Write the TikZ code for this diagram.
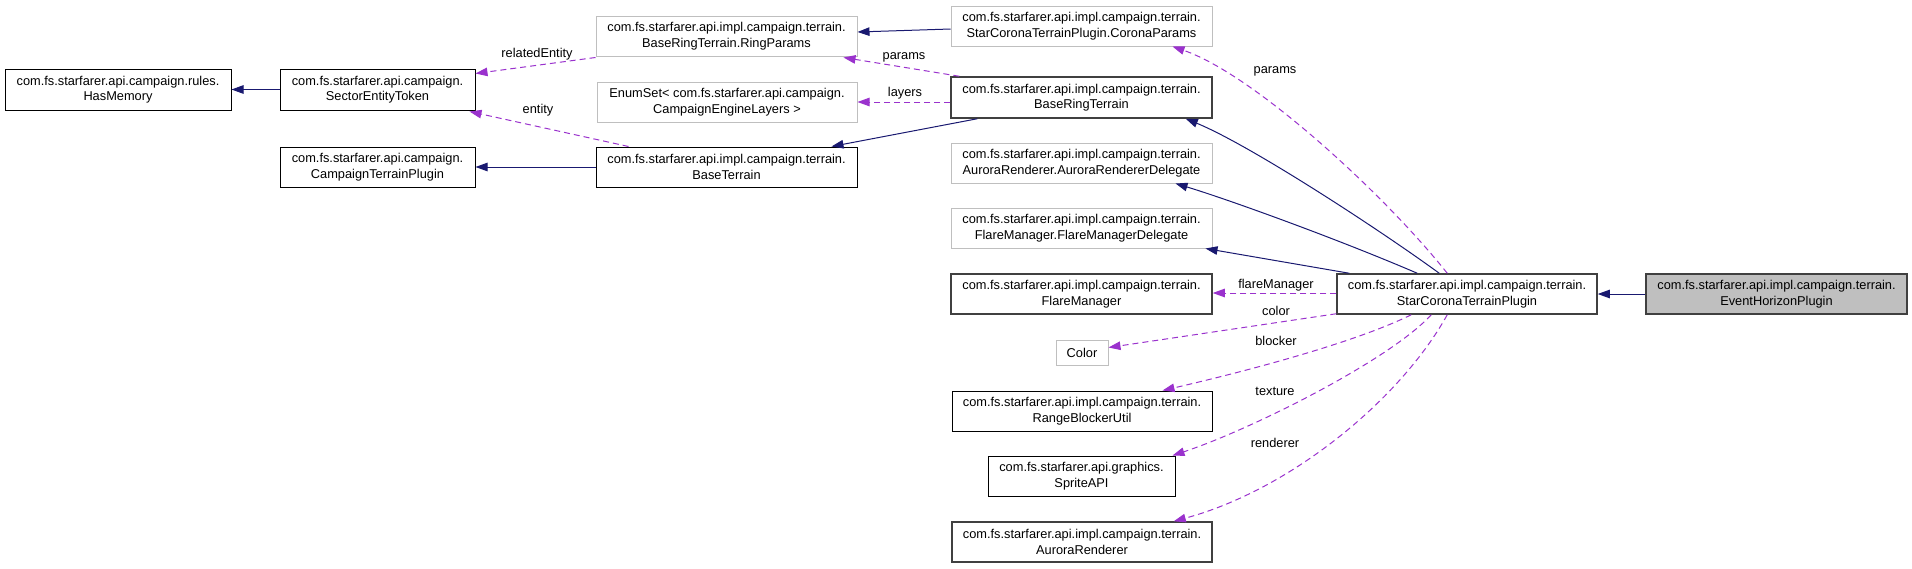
\documentclass[tikz,border=0pt]{standalone}
\usepackage{fontspec}
\setmainfont{Liberation Sans}
\usetikzlibrary{arrows.meta,calc}
\definecolor{navyedge}{HTML}{191970}
\definecolor{orchid}{HTML}{9A32CD}
\definecolor{lightborder}{HTML}{BFBFBF}
\definecolor{darkborder}{HTML}{404040}
\definecolor{rootfill}{HTML}{BFBFBF}
\begin{document}
\begin{tikzpicture}[x=1pt,y=-1pt,
  every node/.style={font=\fontsize{12.8}{15.5}\selectfont},
  box/.style={draw=black,line width=1pt,fill=white,inner sep=0pt,align=center,minimum height=40pt},
  graybox/.style={box,draw=lightborder},
  darkbox/.style={box,draw=darkborder,line width=1.5pt},
  rootbox/.style={box,draw=darkborder,line width=1.5pt,fill=rootfill},
  inherit/.style={draw=navyedge,line width=1pt,-{Triangle[length=12pt,width=8.5pt]}},
  usage/.style={draw=orchid,line width=1pt,dash pattern=on 6pt off 4pt,-{Triangle[length=12pt,width=8.5pt,fill=orchid]}},
  lbl/.style={inner sep=0pt,text=black}
]
\useasboundingbox (0,0) rectangle (1912,568);

% nodes
\node[box,minimum width=226pt,minimum height=41pt] (hm) at (118,89.5) {com.fs.starfarer.api.campaign.rules.\\HasMemory};
\node[box,minimum width=195pt,minimum height=41pt] (set) at (377.5,89.5) {com.fs.starfarer.api.campaign.\\SectorEntityToken};
\node[box,minimum width=195pt] (ctp) at (377.5,167) {com.fs.starfarer.api.campaign.\\CampaignTerrainPlugin};
\node[graybox,minimum width=261pt] (rp) at (726.5,36) {com.fs.starfarer.api.impl.campaign.terrain.\\BaseRingTerrain.RingParams};
\node[graybox,minimum width=261pt] (cp) at (1081.5,26) {com.fs.starfarer.api.impl.campaign.terrain.\\StarCoronaTerrainPlugin.CoronaParams};
\node[graybox,minimum width=260pt] (es) at (727,102) {EnumSet< com.fs.starfarer.api.campaign.\\CampaignEngineLayers >};
\node[darkbox,minimum width=261pt,minimum height=41pt] (brt) at (1081.5,97.5) {com.fs.starfarer.api.impl.campaign.terrain.\\BaseRingTerrain};
\node[box,minimum width=261pt] (bt) at (726.5,167) {com.fs.starfarer.api.impl.campaign.terrain.\\BaseTerrain};
\node[graybox,minimum width=261pt] (ard) at (1081.5,163) {com.fs.starfarer.api.impl.campaign.terrain.\\AuroraRenderer.AuroraRendererDelegate};
\node[graybox,minimum width=261pt] (fmd) at (1081.5,228) {com.fs.starfarer.api.impl.campaign.terrain.\\FlareManager.FlareManagerDelegate};
\node[darkbox,minimum width=261pt] (fm) at (1081.5,294) {com.fs.starfarer.api.impl.campaign.terrain.\\FlareManager};
\node[graybox,minimum width=52pt,minimum height=25pt] (color) at (1082,352.5) {Color};
\node[box,minimum width=260pt] (rbu) at (1082,411) {com.fs.starfarer.api.impl.campaign.terrain.\\RangeBlockerUtil};
\node[box,minimum width=187pt] (sprite) at (1081.5,476) {com.fs.starfarer.api.graphics.\\SpriteAPI};
\node[darkbox,minimum width=260pt] (ar) at (1082,542) {com.fs.starfarer.api.impl.campaign.terrain.\\AuroraRenderer};
\node[darkbox,minimum width=260pt] (sctp) at (1467,294) {com.fs.starfarer.api.impl.campaign.terrain.\\StarCoronaTerrainPlugin};
\node[rootbox,minimum width=261pt] (ehp) at (1776.5,294) {com.fs.starfarer.api.impl.campaign.terrain.\\EventHorizonPlugin};

% inheritance edges
\draw[inherit] (set.west) -- (hm.east);
\draw[inherit] (bt.west) -- (ctp.east);
\draw[inherit] ($(cp.west)+(0,3)$) -- ($(rp.east)+(0,-4)$);
\draw[inherit] ($(brt.south west)+(27,0)$) -- ($(bt.north east)+(-26,0)$);
\draw[inherit] ($(sctp.north west)+(103,0)$) .. controls (1380,230) and (1250,145) .. ($(brt.south east)+(-27,0)$);
\draw[inherit] ($(sctp.north west)+(81,0)$) .. controls (1340,240) and (1230,200) .. ($(ard.south east)+(-37,0)$);
\draw[inherit] ($(sctp.north west)+(13,0)$) -- ($(fmd.south east)+(-7,0)$);
\draw[inherit] (ehp.west) -- (sctp.east);

% usage edges
\draw[usage] ($(rp.south west)+(0,1)$) -- ($(set.north east)+(0,5)$);
\node[lbl] (lrel) at (537,54) {relatedEntity};
\draw[usage] ($(bt.north west)+(33,0)$) -- ($(set.south east)+(-6,1)$);
\node[lbl] (lent) at (538,110) {entity};
\draw[usage] ($(brt.north west)+(9,0)$) -- ($(rp.south east)+(-14,1)$);
\node[lbl] (lparams) at (904,57) {params};
\draw[usage] (brt.west|-es.east) -- (es.east);
\node[lbl] (llayers) at (905,93) {layers};
\draw[usage] ($(sctp.north west)+(111,0)$) .. controls (1385,195) and (1255,75) .. ($(cp.south east)+(-40,0)$);
\node[lbl] (lcparams) at (1275,71) {params};
\draw[usage] ($(sctp.west)+(0,-1)$) -- ($(fm.east)+(0,-1)$);
\node[lbl] (lfm) at (1276,285) {flareManager};
\draw[usage] ($(sctp.south west)+(0,-1)$) -- ($(color.east)+(0,-5)$);
\node[lbl] (lcolor) at (1276,311) {color};
\draw[usage] ($(sctp.south west)+(75,0)$) .. controls (1350,345) and (1230,375) .. ($(rbu.north east)+(-50,0)$);
\node[lbl] (lblocker) at (1276,341) {blocker};
\draw[usage] ($(sctp.south west)+(95,0)$) .. controls (1390,360) and (1250,430) .. ($(sprite.north east)+(-3,0)$);
\node[lbl] (ltexture) at (1275,391) {texture};
\draw[usage] ($(sctp.south west)+(111,0)$) .. controls (1400,400) and (1290,490) .. ($(ar.north east)+(-39,0)$);
\node[lbl] (lrenderer) at (1275,443) {renderer};
\end{tikzpicture}
\end{document}
